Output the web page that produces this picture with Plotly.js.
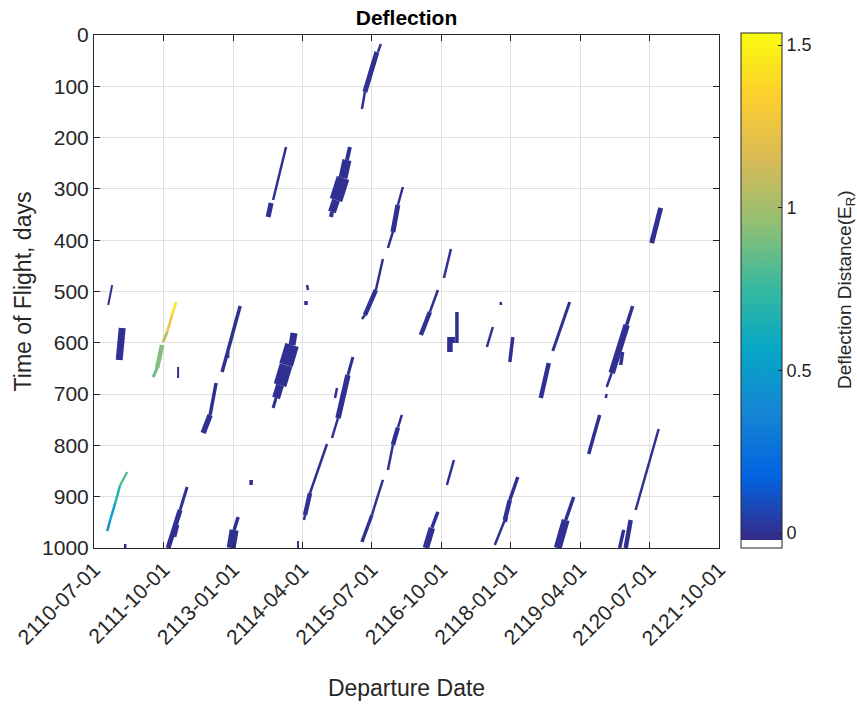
<!DOCTYPE html>
<html>
<head>
<meta charset="utf-8">
<script src="https://cdn.plot.ly/plotly-3.0.1.min.js"></script>
<style>html,body{margin:0;padding:0;background:#fff;}#chart{width:857px;height:704px;}</style>
</head>
<body>
<div id="chart"></div>
<script>
// Departure date (decimal year) and time of flight (days) at both ends of each streak segment
const depStart = [2113.953,2113.684,2115.662,2115.590,2115.374,2115.104,2115.050,2114.979,2114.853,2114.781,
  2116.058,2115.968,2115.878,2115.698,2115.572,2115.374,2116.921,2120.698,2110.824,2111.004,
  2111.975,2111.903,2111.813,2111.723,2111.633,2112.011,2113.126,2112.694,2112.586,2112.910,
  2114.097,2114.061,2113.953,2113.845,2113.773,2114.331,2114.313,2111.094,2110.968,2110.878,
  2110.788,2112.173,2112.047,2112.011,2113.324,2113.090,2113.018,2114.691,2114.385,2114.295,
  2111.058,2114.169,2116.687,2116.543,2117.029,2116.903,2116.939,2117.820,2117.676,2118.036,
  2115.158,2115.068,2114.889,2114.871,2116.040,2115.968,2115.878,2116.975,2115.698,2115.500,
  2116.687,2116.579,2118.126,2117.982,2117.892,2117.928,2119.061,2118.684,2120.194,2120.087,
  2119.817,2120.015,2119.727,2119.601,2120.662,2120.159,2120.033,2119.133,2118.989];
const tofStart = [218.3,327.5,17.5,33.1,111.1,218.3,243.7,278.8,321.6,345.0,
  296.3,331.4,384.0,436.6,497.1,545.8,417.2,337.2,487.3,571.1,
  520.5,545.8,578.9,604.3,649.1,647.2,528.3,678.4,740.7,617.9,
  580.9,604.3,643.3,682.3,707.6,487.3,518.5,851.8,877.2,912.3,
  945.4,881.1,925.9,955.2,867.4,939.6,964.9,797.3,892.8,935.7,
  992.2,986.4,497.1,540.0,540.0,588.7,594.5,520.5,569.2,588.7,
  627.7,662.8,746.6,688.1,740.7,765.3,799.2,828.5,867.4,935.7,
  929.8,961.0,861.6,906.4,945.4,939.6,520.5,639.4,528.3,565.3,
  658.9,617.9,699.8,740.7,768.0,945.4,964.9,900.6,945.4];
const depEnd = [2113.720,2113.630,2115.608,2115.374,2115.320,2115.050,2114.979,2114.853,2114.781,2114.763,
  2115.968,2115.878,2115.788,2115.572,2115.374,2115.320,2116.795,2120.536,2110.752,2110.950,
  2111.903,2111.813,2111.741,2111.633,2111.561,2112.011,2112.802,2112.586,2112.461,2112.910,
  2114.061,2113.953,2113.845,2113.773,2113.720,2114.349,2114.313,2110.968,2110.878,2110.788,
  2110.734,2112.047,2111.831,2111.957,2113.324,2113.018,2112.964,2114.385,2114.295,2114.277,
  2111.058,2114.169,2116.543,2116.381,2117.029,2116.903,2116.993,2117.820,2117.569,2117.982,
  2115.068,2114.889,2114.781,2114.835,2115.968,2115.878,2115.788,2116.849,2115.500,2115.320,
  2116.579,2116.471,2117.982,2117.892,2117.712,2117.910,2118.756,2118.540,2120.087,2119.817,
  2119.727,2119.979,2119.709,2119.403,2120.248,2120.069,2119.961,2118.989,2118.845];
const tofEnd = [321.6,354.8,33.1,111.1,144.2,243.7,278.8,321.6,345.0,354.8,
  331.4,384.0,415.2,497.1,545.8,553.6,473.7,405.5,526.3,633.5,
  545.8,578.9,598.4,649.1,666.7,668.6,656.9,740.7,775.8,629.6,
  604.3,643.3,682.3,707.6,727.1,497.1,526.3,877.2,912.3,945.4,
  966.9,925.9,1000,978.5,877.2,964.9,1000,892.8,935.7,945.4,
  1000,1000,540.0,584.8,600.4,617.9,594.5,526.3,608.2,637.4,
  662.8,746.6,785.6,707.6,765.3,799.2,848.0,877.2,935.7,988.3,
  961.0,1000,906.4,945.4,994.1,949.3,616.0,707.6,565.3,658.9,
  686.2,643.3,707.6,816.8,925.9,1000,1000,945.4,1000];
// Deflection distance (Earth radii) of each segment
const deflection = [0,0,0,0,0,0,0,0,0,0,
  0,0,0,0,0,0,0,0,0,0,
  1.42,1.25,1.08,0.92,0.88,0,0,0,0,0,
  0,0,0,0,0,0,0,0.82,0.68,0.55,
  0.42,0,0,0,0,0,0,0,0,0,
  0,0,0,0,0,0,0,0,0,0,
  0,0,0,0,0,0,0,0,0,0,
  0,0,0,0,0,0,0,0,0,0,
  0,0,0,0,0,0,0,0,0];
// Drawn band thickness (style, px)
const bandWidth = [2.5,5,2.5,5,2.5,4,9,13,8,4,
  2.5,5,2.5,2.5,4.5,2.5,2.5,5,2,7,
  2.5,2.5,3,4.5,3,2,3.5,3.5,5.5,2.5,
  7,14,13,8,3,2.5,3.5,2.5,2.5,2.5,
  2.5,3,5,2.5,3.5,3.5,9,2.5,4.5,2.5,
  2.5,2,2.5,4.5,3.5,5.5,6,2.5,2.5,3.5,
  3,5.5,2.5,2.5,2.5,4.5,2.5,2.5,2.5,3.5,
  3.5,6.5,3.5,4.5,2.5,2.5,3,4.5,3.5,6.5,
  2.5,3.5,2.5,3.5,2.5,4.5,3.5,3.5,8];

const xTicks = ['2110-07-01','2111-10-01','2113-01-01','2114-04-01','2115-07-01','2116-10-01','2118-01-01','2119-04-01','2120-07-01','2121-10-01'];
const yTicks = [0,100,200,300,400,500,600,700,800,900,1000];
const cbTicks = [0,0.5,1,1.5];

const cMin = -0.046, cMax = 1.537;
const whiteFrac = 0.0155;
const parula = ['#352a87','#0363e1','#1485d4','#06a7c6','#38b99e','#92bf73','#d9ba56','#fcce2e','#f9fb0e'];
const colorscale = [[0,'#ffffff'],[whiteFrac,'#ffffff']];
parula.forEach((c,i)=>{ colorscale.push([whiteFrac + (1-whiteFrac)*i/(parula.length-1), c]); });
colorscale[2][0] = whiteFrac + 1e-6;

function hex2rgb(h){return [parseInt(h.substr(1,2),16),parseInt(h.substr(3,2),16),parseInt(h.substr(5,2),16)];}
function colorFor(v){
  const t = (v - cMin)/(cMax - cMin);
  for(let i=2;i<colorscale.length-1;i++){
    const a=colorscale[i], b=colorscale[i+1];
    if(t>=a[0] && t<=b[0]){
      const f=(t-a[0])/(b[0]-a[0]);
      const ca=hex2rgb(a[1]), cb=hex2rgb(b[1]);
      return 'rgb('+ca.map((x,k)=>Math.round(x+(cb[k]-x)*f)).join(',')+')';
    }
  }
  return colorscale[colorscale.length-1][1];
}
function decYear(y){
  const yr=Math.floor(y);
  const s=Date.UTC(yr,0,1), e=Date.UTC(yr+1,0,1);
  return new Date(s+(y-yr)*(e-s)).toISOString().replace('T',' ').slice(0,19);
}

const traces = [];
for(let i=0;i<depStart.length;i++){
  traces.push({
    type:'scatter', mode:'lines',
    x:[decYear(depStart[i]), decYear(depEnd[i])],
    y:[tofStart[i], tofEnd[i]],
    line:{color:colorFor(deflection[i]), width:bandWidth[i]},
    hoverinfo:'skip', showlegend:false
  });
}
// colour-bar carrier: segment midpoints coloured by deflection
traces.push({
  type:'scatter', mode:'markers',
  x: depStart.map((d,i)=>decYear((d+depEnd[i])/2)),
  y: tofStart.map((t,i)=>(t+tofEnd[i])/2),
  marker:{size:0.1, opacity:0, color:deflection, cmin:cMin, cmax:cMax, colorscale:colorscale, showscale:true,
    colorbar:{
      x:(741-94)/625, xanchor:'left', xref:'paper',
      y:(548-33)/513, yanchor:'top', yref:'paper',
      thickness:41, thicknessmode:'pixels', len:515, lenmode:'pixels',
      xpad:0, ypad:0,
      outlinewidth:1, outlinecolor:'#262626',
      ticks:'inside', ticklen:4, tickcolor:'#262626',
      tickvals:cbTicks, ticktext:cbTicks.map(String),
      tickfont:{family:'Liberation Sans, Arial, sans-serif', size:18, color:'#262626'}
    }},
  hoverinfo:'skip', showlegend:false
});

const axisFont = {family:'Liberation Sans, Arial, sans-serif', size:21, color:'#262626'};
const layout = {
  width:857, height:704,
  margin:{l:94, r:138, t:35, b:156, autoexpand:false},
  paper_bgcolor:'#ffffff', plot_bgcolor:'#ffffff',
  font:{family:'Liberation Sans, Arial, sans-serif', color:'#262626'},
  title:{text:'<b>Deflection</b>', font:{family:'Liberation Sans, Arial, sans-serif', size:21, color:'#000000'},
    x:0.5, xref:'paper', xanchor:'center', y:0.975, yref:'container', yanchor:'middle'},
  xaxis:{type:'date', range:[xTicks[0], xTicks[xTicks.length-1]],
    tickvals:xTicks, ticktext:xTicks, tickangle:-45, tickfont:axisFont,
    showgrid:true, gridcolor:'#e0e0e0', gridwidth:1,
    showline:true, linecolor:'#262626', linewidth:1, mirror:'ticks',
    ticks:'inside', ticklen:6, tickcolor:'#262626', zeroline:false,
    title:{text:'Departure Date', font:{family:'Liberation Sans, Arial, sans-serif', size:23, color:'#262626'}, standoff:30}},
  yaxis:{range:[1000,0], tickvals:yTicks, ticktext:yTicks.map(String), tickfont:axisFont,
    showgrid:true, gridcolor:'#e0e0e0', gridwidth:1,
    showline:true, linecolor:'#262626', linewidth:1, mirror:'ticks',
    ticks:'inside', ticklen:6, tickcolor:'#262626', zeroline:false,
    title:{text:'Time of Flight, days', font:{family:'Liberation Sans, Arial, sans-serif', size:23, color:'#262626'}, standoff:4}},
  annotations:[{
    text:'Deflection Distance(E<sub>R</sub>)', textangle:-90, showarrow:false,
    xref:'paper', yref:'paper', x:(846-94)/625, y:(548-290)/513, xanchor:'center', yanchor:'middle',
    font:{family:'Liberation Sans, Arial, sans-serif', size:19, color:'#262626'}
  }]
};
Plotly.newPlot('chart', traces, layout, {displayModeBar:false, staticPlot:true});
</script>
</body>
</html>
